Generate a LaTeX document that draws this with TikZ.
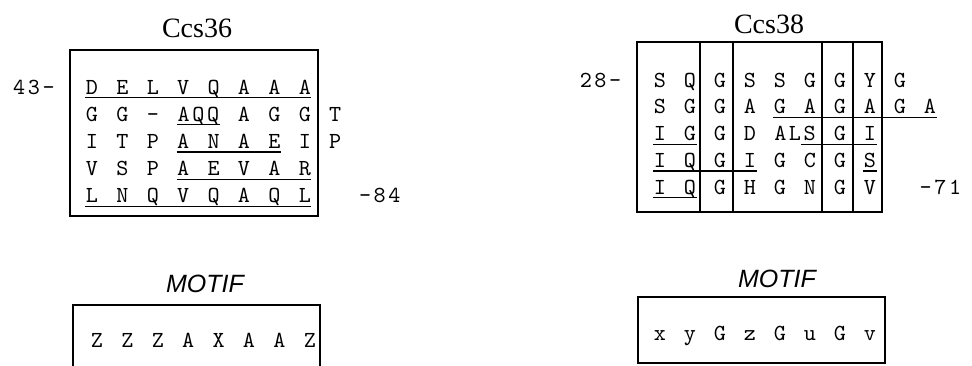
\documentclass[tikz,border=0pt]{standalone}
\usepackage{fontspec}
\setmainfont{Liberation Serif}
\newfontfamily\seqfont{lmmono10-regular.otf}[LetterSpace=11.5]
\newfontfamily\motiffont{Liberation Sans}
\usetikzlibrary{positioning}

\begin{document}
\begin{tikzpicture}[
x=1pt, y=-1pt,
line width=1.2pt,
seq/.style={font=\seqfont\fontsize{23}{28}\selectfont, inner sep=0pt, text height=14pt, text depth=0pt},
seqtitle/.style={font=\fontsize{28}{32}\selectfont, inner sep=0pt, anchor=base},
motif/.style={font=\motiffont\itshape\fontsize{25}{30}\selectfont, inner sep=0pt, anchor=base},
ul/.style={line width=1.2pt}
]
\useasboundingbox (0,0) rectangle (972,365);

\node[seqtitle] (t36) at (197,37) {Ccs36};
\node[seqtitle] (t38) at (769,33) {Ccs38};

\foreach \r/\row in {
1/{1/D,2/E,3/L,4/V,5/Q,6/A,7/A,8/A},
2/{1/G,2/G,3/-,4.5/AQQ,6/A,7/G,8/G,9/T},
3/{1/I,2/T,3/P,4/A,5/N,6/A,7/E,8/I,9/P},
4/{1/V,2/S,3/P,4/A,5/E,6/V,7/A,8/R},
5/{1/L,2/N,3/Q,4/V,5/Q,6/A,7/Q,8/L}}
\foreach \c/\t [count=\k] in \row
\node[seq] (a\r-\k) at ({61.6+30.4*\c},{59.8+27.2*\r}) {\t};

\node[seq, left=30pt of a1-1] (n43) {43-};
\node[seq, right=47pt of a5-8] (n84) {-84};

\draw (70,50) rectangle (318,216);
\draw[ul] ([yshift=-3pt]a1-1.south west) -- ([yshift=-3pt]a1-8.south east);
\draw[ul] ([yshift=-3pt]a2-4.south west) -- ([yshift=-3pt]a2-4.south east);
\draw[ul] ([yshift=-3pt]a3-4.south west) -- ([yshift=-3pt]a3-7.south east);
\draw[ul] ([yshift=-3pt]a4-4.south west) -- ([yshift=-3pt]a4-8.south east);
\draw[ul] ([yshift=-3pt]a5-1.south west) -- ([yshift=-3pt]a5-8.south east);

\foreach \r/\row in {
1/{1/S,2/Q,3/G,4/S,5/S,6/G,7/G,8/Y,9/G},
2/{1/S,2/G,3/G,4/A,5/G,6/A,7/G,8/A,9/G,10/A},
3/{1/I,2/G,3/G,4/D,5.5/ALS,7/G,8/I},
4/{1/I,2/Q,3/G,4/I,5/G,6/C,7/G,8/S},
5/{1/I,2/Q,3/G,4/H,5/G,6/N,7/G,8/V}}
\foreach \c/\t [count=\k] in \row
\node[seq] (b\r-\k) at ({630+30*\c},{53.2+26.8*\r}) {\t};

\node[seq, left=31.5pt of b1-1] (n28) {28-};
\node[seq, right=42.5pt of b5-8] (n71) {-71};

\draw (637,42) rectangle (882,212);
\foreach \x in {700,733,822,853}
\draw (\x,42) -- (\x,212);
\draw[ul] ([yshift=-3pt]b2-5.south west) -- ([yshift=-3pt]b2-10.south east);
\draw[ul] ([yshift=-3pt]b3-1.south west) -- ([yshift=-3pt]b3-2.south east);
\draw[ul] ([xshift=-15pt,yshift=-3pt]b3-5.south east) -- ([yshift=-3pt]b3-7.south east);
\draw[ul] ([yshift=-3pt]b4-1.south west) -- ([yshift=-3pt]b4-4.south east);
\draw[ul] ([yshift=-3pt]b4-8.south west) -- ([yshift=-3pt]b4-8.south east);
\draw[ul] ([yshift=-3pt]b5-1.south west) -- ([yshift=-3pt]b5-2.south east);

\node[motif] (f36) at (205,292) {MOTIF};
\draw (73,368) -- (73,305) -- (320,305) -- (320,368);
\foreach \t [count=\k] in {Z,Z,Z,A,X,A,A,Z}
\node[seq] (m\k) at ({66.6+30.4*\k},340) {\t};

\node[motif] (f38) at (777,287) {MOTIF};
\draw (638,297) rectangle (885,363);
\foreach \t [count=\k] in {x,y,G,z,G,u,G,v}
\node[seq] (u\k) at ({630+30*\k},333) {\t};

\end{tikzpicture}
\end{document}
